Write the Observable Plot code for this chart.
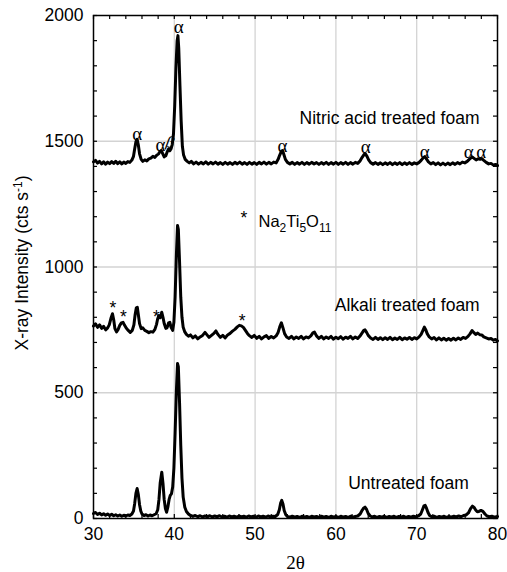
<!DOCTYPE html>
<html><head><meta charset="utf-8">
<script src="https://cdn.jsdelivr.net/npm/d3@7"></script>
<script src="https://cdn.jsdelivr.net/npm/@observablehq/plot@0.6"></script>
<style>body{margin:0;background:#fff}</style>
</head><body><div id="chart"></div>
<script>
// ---- data (2θ, counts) ----
const untreated = [[30,20],[30.25,24],[30.5,16],[30.75,21],[31,14],[31.25,19],[31.5,13],[31.75,18],[32,12],[32.25,17],[32.5,11],[32.75,15],[33,10],[33.25,14],[33.5,9],[33.75,13],[34,10],[34.25,14],[34.5,12],[34.75,18],[34.95,30],[35.1,60],[35.25,100],[35.4,119],[35.55,95],[35.7,55],[35.85,30],[36,18],[36.25,12],[36.5,15],[36.75,10],[37,14],[37.25,11],[37.5,15],[37.75,19],[37.95,35],[38.1,75],[38.25,140],[38.45,184],[38.6,140],[38.75,75],[38.9,40],[39.05,25],[39.2,45],[39.35,75],[39.5,92],[39.65,98],[39.8,125],[39.95,200],[40.1,340],[40.25,500],[40.4,616],[40.5,604],[40.65,460],[40.8,290],[40.95,160],[41.1,85],[41.3,45],[41.5,28],[41.75,18],[42,12],[42.3,8],[42.6,12],[42.9,7],[43.2,11],[43.5,6],[43.8,10],[44.1,7],[44.4,11],[44.7,6],[45,10],[45.3,7],[45.6,11],[45.9,6],[46.2,9],[46.5,5],[46.8,10],[47.1,6],[47.4,9],[47.7,5],[48,10],[48.3,6],[48.6,9],[48.9,5],[49.2,10],[49.5,6],[49.8,9],[50.1,5],[50.4,10],[50.7,6],[51,9],[51.3,5],[51.6,10],[51.9,6],[52.2,9],[52.5,8],[52.8,16],[53,35],[53.15,60],[53.3,72],[53.45,58],[53.6,32],[53.8,15],[54,8],[54.3,5],[54.6,9],[54.9,5],[55.2,8],[55.5,4],[55.8,9],[56.1,5],[56.4,8],[56.7,4],[57,9],[57.3,6],[57.6,8],[57.9,4],[58.2,9],[58.5,5],[58.8,8],[59.1,4],[59.4,9],[59.7,5],[60,8],[60.3,4],[60.6,9],[60.9,5],[61.2,8],[61.5,4],[61.8,9],[62.1,5],[62.4,8],[62.7,10],[63,18],[63.2,30],[63.45,42],[63.6,45],[63.8,36],[64,20],[64.25,10],[64.5,6],[64.8,9],[65.1,4],[65.4,8],[65.7,5],[66,9],[66.3,4],[66.6,8],[66.9,5],[67.2,9],[67.5,4],[67.8,8],[68.1,5],[68.4,9],[68.7,4],[69,8],[69.3,5],[69.6,9],[69.9,6],[70.2,10],[70.5,18],[70.7,34],[70.9,50],[71.05,52],[71.2,42],[71.4,24],[71.6,12],[71.9,6],[72.2,9],[72.5,4],[72.8,8],[73.1,5],[73.4,9],[73.7,4],[74,8],[74.3,5],[74.6,9],[74.9,6],[75.2,10],[75.5,7],[75.8,12],[76.1,14],[76.4,22],[76.65,38],[76.9,49],[77.1,44],[77.3,34],[77.5,27],[77.7,28],[77.95,32],[78.2,28],[78.45,18],[78.7,10],[79,7],[79.3,9],[79.6,5],[80,8]];

const alkali = [[30,765],[30.25,774],[30.5,760],[30.75,770],[31,756],[31.25,764],[31.5,750],[31.75,758],[31.95,770],[32.15,795],[32.35,814],[32.5,790],[32.65,755],[32.85,742],[33.05,752],[33.25,768],[33.45,778],[33.65,780],[33.85,768],[34.05,757],[34.3,748],[34.55,740],[34.8,748],[35,770],[35.15,810],[35.3,838],[35.42,840],[35.55,810],[35.7,775],[35.9,755],[36.1,758],[36.35,748],[36.6,744],[36.85,739],[37.1,743],[37.35,741],[37.6,752],[37.8,772],[37.95,795],[38.1,807],[38.25,798],[38.45,820],[38.6,800],[38.75,775],[38.95,756],[39.1,758],[39.3,778],[39.45,780],[39.6,760],[39.8,748],[39.95,780],[40.1,880],[40.25,1040],[40.4,1165],[40.5,1150],[40.65,1020],[40.8,880],[40.95,800],[41.1,760],[41.3,742],[41.5,732],[41.75,725],[42,730],[42.3,718],[42.6,726],[42.9,714],[43.2,722],[43.5,728],[43.8,740],[44.05,730],[44.3,720],[44.6,728],[44.9,736],[45.15,746],[45.4,732],[45.7,720],[46,728],[46.3,718],[46.6,730],[46.9,736],[47.2,745],[47.5,752],[47.8,762],[48.05,768],[48.3,766],[48.55,760],[48.8,748],[49.05,736],[49.3,727],[49.6,720],[49.9,728],[50.2,716],[50.5,724],[50.8,714],[51.1,722],[51.4,727],[51.7,716],[52,724],[52.3,718],[52.6,726],[52.85,740],[53.05,762],[53.25,778],[53.45,758],[53.65,735],[53.9,722],[54.2,716],[54.5,724],[54.8,714],[55.1,722],[55.4,716],[55.7,724],[56,714],[56.3,722],[56.6,718],[56.9,726],[57.15,738],[57.35,741],[57.6,726],[57.9,716],[58.2,724],[58.5,714],[58.8,722],[59.1,716],[59.4,724],[59.7,713],[60,721],[60.3,715],[60.6,723],[60.9,713],[61.2,721],[61.5,716],[61.8,724],[62.1,714],[62.4,722],[62.7,716],[63,726],[63.25,738],[63.45,748],[63.6,750],[63.8,740],[64,728],[64.3,718],[64.6,712],[64.9,720],[65.2,712],[65.5,719],[65.8,711],[66.1,719],[66.4,712],[66.7,720],[67,711],[67.3,718],[67.6,712],[67.9,720],[68.2,711],[68.5,718],[68.8,713],[69.1,720],[69.4,712],[69.7,719],[70,714],[70.3,722],[70.55,732],[70.8,750],[70.95,761],[71.1,752],[71.3,735],[71.55,722],[71.85,714],[72.15,720],[72.45,710],[72.75,718],[73.05,710],[73.35,717],[73.65,709],[73.95,716],[74.25,709],[74.55,717],[74.85,710],[75.15,718],[75.45,712],[75.75,720],[76.05,716],[76.35,724],[76.6,734],[76.85,747],[77.05,740],[77.3,732],[77.55,737],[77.8,731],[78.05,730],[78.3,722],[78.6,718],[78.9,714],[79.2,716],[79.5,709],[79.75,712],[80,706]];

const nitric = [[30,1418],[30.25,1424],[30.5,1413],[30.75,1420],[31,1410],[31.25,1418],[31.5,1409],[31.75,1417],[32,1411],[32.25,1419],[32.5,1412],[32.75,1420],[33,1411],[33.25,1418],[33.5,1410],[33.75,1417],[34,1412],[34.25,1419],[34.5,1416],[34.75,1425],[34.95,1440],[35.1,1470],[35.25,1498],[35.4,1508],[35.55,1485],[35.7,1450],[35.9,1428],[36.1,1420],[36.35,1426],[36.6,1422],[36.85,1430],[37.1,1433],[37.35,1440],[37.6,1436],[37.85,1445],[38.05,1450],[38.25,1460],[38.4,1463],[38.55,1452],[38.75,1438],[38.95,1442],[39.15,1460],[39.3,1470],[39.45,1462],[39.6,1470],[39.75,1488],[39.9,1530],[40.05,1640],[40.2,1790],[40.35,1900],[40.45,1920],[40.55,1870],[40.7,1720],[40.85,1580],[41,1480],[41.15,1445],[41.35,1428],[41.6,1420],[41.85,1414],[42.1,1420],[42.4,1410],[42.7,1417],[43,1409],[43.3,1416],[43.6,1410],[43.9,1418],[44.2,1409],[44.5,1416],[44.8,1410],[45.1,1417],[45.4,1409],[45.7,1415],[46,1408],[46.3,1416],[46.6,1409],[46.9,1415],[47.2,1408],[47.5,1416],[47.8,1410],[48.1,1417],[48.4,1409],[48.7,1415],[49,1408],[49.3,1416],[49.6,1409],[49.9,1415],[50.2,1408],[50.5,1416],[50.8,1410],[51.1,1417],[51.4,1409],[51.7,1416],[52,1410],[52.3,1417],[52.6,1414],[52.85,1428],[53.05,1445],[53.25,1460],[53.4,1463],[53.55,1448],[53.75,1428],[54,1416],[54.3,1410],[54.6,1416],[54.9,1408],[55.2,1415],[55.5,1409],[55.8,1416],[56.1,1408],[56.4,1415],[56.7,1409],[57,1416],[57.3,1410],[57.6,1415],[57.9,1408],[58.2,1415],[58.5,1409],[58.8,1416],[59.1,1408],[59.4,1415],[59.7,1409],[60,1416],[60.3,1408],[60.6,1415],[60.9,1409],[61.2,1416],[61.5,1408],[61.8,1415],[62.1,1409],[62.4,1416],[62.7,1412],[63,1422],[63.25,1436],[63.5,1448],[63.65,1450],[63.85,1440],[64.05,1426],[64.3,1415],[64.6,1409],[64.9,1415],[65.2,1408],[65.5,1414],[65.8,1407],[66.1,1414],[66.4,1408],[66.7,1415],[67,1407],[67.3,1414],[67.6,1408],[67.9,1415],[68.2,1407],[68.5,1414],[68.8,1408],[69.1,1415],[69.4,1408],[69.7,1414],[70,1410],[70.3,1416],[70.55,1424],[70.8,1434],[71,1439],[71.2,1430],[71.45,1418],[71.75,1410],[72.05,1415],[72.35,1407],[72.65,1414],[72.95,1406],[73.25,1413],[73.55,1406],[73.85,1413],[74.15,1407],[74.45,1414],[74.75,1408],[75.05,1415],[75.35,1410],[75.65,1417],[75.95,1414],[76.25,1420],[76.5,1428],[76.75,1435],[76.9,1437],[77.1,1432],[77.35,1426],[77.6,1430],[77.85,1428],[78.05,1431],[78.3,1424],[78.6,1416],[78.9,1410],[79.2,1412],[79.5,1405],[79.75,1408],[80,1403]];

// peak markers
const alphaX = [35.4, 38.3, 40.55, 53.4, 63.7, 71.0, 76.45, 78.0];
const alphaY = [1530, 1487, 1953, 1483, 1476, 1457, 1457, 1457];
const betaX = [39.5];
const betaY = [1496];
const starX = [32.4, 33.7, 37.8, 48.4];
const starY = [851, 816, 814, 800];

// curve labels
const curveLabels = ["Nitric acid treated foam", "Alkali treated foam", "Untreated foam"];
const curveLabelX = [55.5, 59.86, 61.52];
const curveLabelY = [1590, 847, 139];

// phase key
const keyStarX = [48.6];
const keyStarY = [1209];
const keyText = ["Na2Ti5O11"];
const keyTextX = [50.42];
const keyTextY = [1182];

// axes
const xTickLabels = [30, 40, 50, 60, 70, 80];
const yTickLabels = [0, 500, 1000, 1500, 2000];
const xGrid = [40, 50, 60, 70];
const yGrid = [500, 1000, 1500];
const xMinor = d3.range(30, 80.01, 2);
const yMinor = d3.range(0, 2000.01, 100);
const xTitle = "2θ";
const yTitle = "X-ray Intensity (cts s-1)";

// ---- layout ----
const W = 507, H = 572, mL = 93, mR = 10, mT = 15, mB = 54;
const fw = W - mL - mR, fh = H - mT - mB;
const SANS = "'Liberation Sans', Arial, Helvetica, sans-serif";
const SERIF = "'Liberation Serif', 'Times New Roman', serif";
const tk = 4;

const chart = Plot.plot({
  width: W, height: H,
  marginLeft: mL, marginRight: mR, marginTop: mT, marginBottom: mB,
  x: {domain: [30, 80]},
  y: {domain: [0, 2000]},
  style: {fontFamily: SANS, fontSize: "17.5px", color: "black", background: "white"},
  marks: [
    Plot.ruleX(xGrid, {x: d => d, stroke: "#d3d3d3", strokeWidth: 1.3}),
    Plot.ruleY(yGrid, {y: d => d, stroke: "#d3d3d3", strokeWidth: 1.3}),
    // inward ticks
    Plot.tickX(xMinor, {x: d => d, insetBottom: fh - tk, stroke: "black", strokeWidth: 1.2}),
    Plot.tickX(xMinor, {x: d => d, insetTop: fh - tk, stroke: "black", strokeWidth: 1.2}),
    Plot.tickY(yMinor, {y: d => d, insetRight: fw - tk, stroke: "black", strokeWidth: 1.2}),
    Plot.tickY(yMinor, {y: d => d, insetLeft: fw - tk, stroke: "black", strokeWidth: 1.2}),
    Plot.line(untreated, {x: d => d[0], y: d => d[1], stroke: "black", strokeWidth: 3, strokeLinejoin: "round"}),
    Plot.line(alkali, {x: d => d[0], y: d => d[1], stroke: "black", strokeWidth: 3, strokeLinejoin: "round"}),
    Plot.line(nitric, {x: d => d[0], y: d => d[1], stroke: "black", strokeWidth: 3, strokeLinejoin: "round"}),
    Plot.frame({stroke: "black", strokeWidth: 1.5}),
    Plot.axisX({ticks: xTickLabels, tickSize: 0, tickPadding: 9, tickFormat: d => String(d), label: null, fontSize: 17.5}),
    Plot.axisY({ticks: yTickLabels, tickSize: 0, tickPadding: 10, tickFormat: d => String(d), label: null, fontSize: 17.5}),
    Plot.text(alphaX, {x: d => d, y: (d, i) => alphaY[i], text: () => "α", fontFamily: SERIF, fontSize: 19, fill: "black"}),
    Plot.text(betaX, {x: d => d, y: (d, i) => betaY[i], text: () => "β", fontFamily: SERIF, fontSize: 16, rotate: 20, fill: "black"}),
    Plot.text(starX, {x: d => d, y: (d, i) => starY[i], text: () => "*", fontSize: 17.5, dy: 4, fill: "black"}),
    Plot.text(keyStarX, {x: d => d, y: (d, i) => keyStarY[i], text: () => "*", fontSize: 17.5, dy: 4, fill: "black"}),
    Plot.text(keyText, {x: (d, i) => keyTextX[i], y: (d, i) => keyTextY[i], text: d => d, textAnchor: "start", fontSize: 16.5, fill: "black"}),
    Plot.text(curveLabels, {x: (d, i) => curveLabelX[i], y: (d, i) => curveLabelY[i], text: d => d, textAnchor: "start", fontSize: 17.5, fill: "black"}),
    Plot.text([xTitle], {frameAnchor: "bottom", dy: 44, lineAnchor: "middle", textAnchor: "middle", text: d => d, fontFamily: SERIF, fontSize: 19, fill: "black"}),
    Plot.text([yTitle], {frameAnchor: "left", dx: -71, dy: -4, rotate: -90, textAnchor: "middle", lineAnchor: "middle", text: d => d, fontSize: 17.5, fill: "black"})
  ]
});
document.getElementById("chart").appendChild(chart);

// sub/superscripts
const NS = "http://www.w3.org/2000/svg";
function rebuild(el, parts) {
  el.textContent = "";
  for (const [s, kind] of parts) {
    const t = document.createElementNS(NS, "tspan");
    t.textContent = s;
    el.appendChild(t);
    t.__kind = kind;
  }
  let prev = 0;
  for (const t of el.childNodes) {
    const off = t.__kind === "sub" ? 5 : t.__kind === "sup" ? -6 : 0;
    if (off !== prev) t.setAttribute("dy", off - prev);
    if (t.__kind) t.setAttribute("font-size", 12);
    prev = off;
  }
}
chart.querySelectorAll("text").forEach(el => {
  if (el.textContent === "Na2Ti5O11") {
    rebuild(el, [["Na"], ["2", "sub"], ["Ti"], ["5", "sub"], ["O"], ["11", "sub"]]);
  } else if (el.textContent === yTitle) {
    rebuild(el, [["X-ray Intensity (cts s"], ["-1", "sup"], [")"]]);
  }
});
</script></body></html>
